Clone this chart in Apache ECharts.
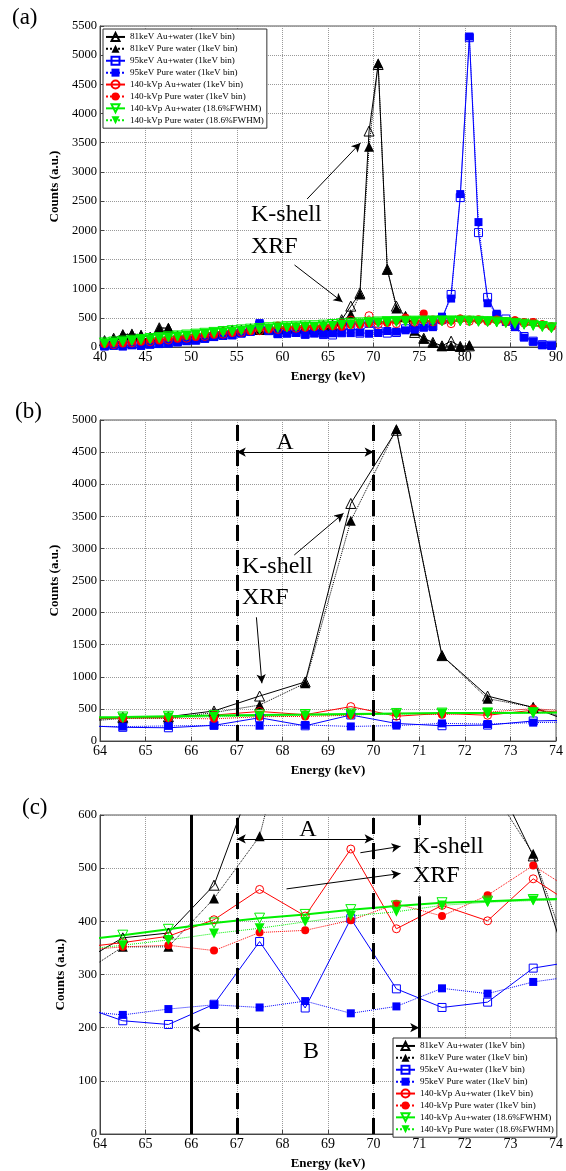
<!DOCTYPE html>
<html><head><meta charset="utf-8">
<script src="https://cdn.jsdelivr.net/npm/echarts@6/dist/echarts.min.js"></script>
<style>html,body{margin:0;padding:0;background:#fff}#c{width:566px;height:1171px}</style>
</head><body><div id="c"></div>
<script>
// ---------- data ----------
const energy = [40.5,41.5,42.5,43.5,44.5,45.5,46.5,47.5,48.5,49.5,
  50.5,51.5,52.5,53.5,54.5,55.5,56.5,57.5,58.5,59.5,
  60.5,61.5,62.5,63.5,64.5,65.5,66.5,67.5,68.5,69.5,
  70.5,71.5,72.5,73.5,74.5,75.5,76.5,77.5,78.5,79.5,
  80.5,81.5,82.5,83.5,84.5,85.5,86.5,87.5,88.5,89.5];
const au81 = [110,150,210,215,200,170,330,320,190,160,
  170,200,240,270,280,290,310,300,310,320,
  330,330,340,319,369,378,468,700,920,3700,
  4840,1330,700,523,250,150,80,20,100,10,
  20,null,null,null,null,null,null,null,null,null];
const pw81 = [100,140,220,230,210,160,320,330,180,170,
  180,210,230,280,300,280,320,310,300,310,
  320,330,330,296,352,352,443,560,900,3430,
  4860,1330,660,527,280,140,70,15,15,10,
  30,null,null,null,null,null,null,null,null,null];
const au95 = [20,30,20,40,30,50,60,70,90,110,
  120,150,180,200,210,240,270,380,280,230,
  240,250,220,243,213,206,244,362,237,405,
  273,238,248,312,326,350,360,470,900,2560,
  5300,1960,850,540,480,380,180,100,40,30];
const pw95 = [10,20,10,30,20,40,50,60,80,100,
  110,140,170,190,200,230,260,410,290,220,
  230,240,210,232,224,235,243,238,250,227,
  240,274,264,286,298,330,340,520,830,2620,
  5320,2140,750,570,430,340,160,90,30,20];
const au140 = [60,40,90,70,120,90,140,120,170,150,
  200,180,240,220,270,250,300,280,320,300,
  340,320,360,350,360,372,403,460,410,536,
  386,430,401,480,424,460,430,450,400,480,
  440,470,440,460,430,450,410,420,380,350];
const pw140 = [50,70,60,100,90,130,110,160,140,190,
  170,220,210,270,240,290,270,320,300,370,
  340,350,330,345,352,355,345,379,383,402,
  433,410,449,505,450,575,470,460,450,490,
  470,460,450,470,440,460,430,430,390,350];
const au140f = [70,85,100,115,130,145,160,175,190,205,
  220,235,250,265,280,293,306,318,330,340,
  348,355,362,364,374,385,397,406,413,422,
  429,435,438,441,443,445,446,447,447,446,
  444,440,435,428,418,405,390,372,352,330];
const pw140f = [60,72,88,102,118,132,148,162,178,192,
  208,222,238,252,266,280,292,305,316,326,
  334,340,346,346,355,365,377,387,399,410,
  418,430,436,439,441,443,444,445,445,444,
  442,438,432,425,414,400,384,366,346,322];
const seriesNames = ['81keV Au+water (1keV bin)','81keV Pure water (1keV bin)',
  '95keV Au+water (1keV bin)','95keV Pure water (1keV bin)',
  '140-kVp Au+water (1keV bin)','140-kVp Pure water (1keV bin)',
  '140-kVp Au+water (18.6%FWHM)','140-kVp Pure water (18.6%FWHM)'];
const seriesValues = [au81, pw81, au95, pw95, au140, pw140, au140f, pw140f];

// ---------- styles ----------
const FONT = 'Liberation Serif';
const looks = [
  {color:'#000000', symbol:'triangle', rot:0, open:true, type:'solid', w:1, size:10},
  {color:'#000000', symbol:'triangle', rot:0, open:false, type:'dotted', w:1, size:10},
  {color:'#0000ff', symbol:'rect', rot:0, open:true, type:'solid', w:1, size:8},
  {color:'#0000ff', symbol:'rect', rot:0, open:false, type:'dotted', w:1, size:8},
  {color:'#ff0000', symbol:'circle', rot:0, open:true, type:'solid', w:1, size:8},
  {color:'#ff0000', symbol:'circle', rot:0, open:false, type:'dotted', w:1, size:8},
  {color:'#00f000', symbol:'triangle', rot:180, open:true, type:'solid', w:2, size:10},
  {color:'#00f000', symbol:'triangle', rot:180, open:false, type:'dotted', w:1, size:10}
];

const panels = [
  {top:26, height:321, xmin:40, xmax:90, xint:5, ymax:5500, yint:500, nameGap:38},
  {top:420, height:321, xmin:64, xmax:74, xint:1, ymax:5000, yint:500, nameGap:38},
  {top:815, height:323, xmin:64, xmax:74, xint:1, ymax:600, yint:100, nameGap:33}
];

const grids = panels.map(p => ({left:100, top:p.top, width:458, height:p.height,
  show:true, borderColor:'#555', borderWidth:1, backgroundColor:'#fff'}));
const xAxes = panels.map((p,i) => ({type:'value', gridIndex:i, min:p.xmin, max:p.xmax, interval:p.xint,
  axisLine:{show:true, onZero:false, lineStyle:{color:'#444'}},
  axisTick:{show:true, inside:true, length:4, lineStyle:{color:'#444'}},
  splitLine:{show:true, lineStyle:{type:'dotted', color:'#999'}},
  axisLabel:{color:'#000', fontFamily:FONT, fontSize:14, margin:3, formatter: v => String(v)},
  name:'Energy (keV)', nameLocation:'middle', nameGap:23,
  nameTextStyle:{color:'#000', fontFamily:FONT, fontWeight:'bold', fontSize:13}}));
const yAxes = panels.map((p,i) => ({type:'value', gridIndex:i, min:0, max:p.ymax, interval:p.yint,
  axisLine:{show:true, lineStyle:{color:'#444'}},
  axisTick:{show:true, inside:true, length:4, lineStyle:{color:'#444'}},
  splitLine:{show:true, lineStyle:{type:'dotted', color:'#999'}},
  axisLabel:{color:'#000', fontFamily:FONT, fontSize:12.5, margin:3, formatter: v => String(v)},
  name:'Counts (a.u.)', nameLocation:'middle', nameGap:p.nameGap,
  nameTextStyle:{color:'#000', fontFamily:FONT, fontWeight:'bold', fontSize:13}}));

const series = [];
panels.forEach((p, g) => {
  seriesNames.forEach((nm, k) => {
    const lk = looks[k];
    series.push({
      type:'line', name:nm, xAxisIndex:g, yAxisIndex:g,
      data: energy.map((e, i) => [e, seriesValues[k][i]]),
      symbol: lk.symbol, symbolSize: lk.size, symbolRotate: lk.rot, showAllSymbol:true,
      itemStyle: lk.open ? {color:'rgba(255,255,255,0)', borderColor:lk.color, borderWidth:1}
                         : {color:lk.color, borderColor:lk.color, borderWidth:0},
      lineStyle: {color:lk.color, width:lk.w, type:lk.type},
      emphasis:{disabled:true}, animation:false, clip:true
    });
  });
});

// ---------- annotations ----------
const dash = {color:'#000', width:3, type:[16,9]};
const solid = {color:'#000', width:3, type:'solid'};
const thin = {color:'#000', width:1, type:'solid'};
function seg(a, b, style, s1, s2) {
  return [{coord:a, symbol:s1||'none', lineStyle:style}, {coord:b, symbol:s2||'none', lineStyle:style}];
}
const annos = [
  [ seg([62.71,2536],[68.56,3496],thin,'none','arrow'),
    seg([61.33,1405],[66.59,771],thin,'none','arrow') ],
  [ seg([67,0],[67,5000],dash), seg([70,0],[70,5000],dash),
    seg([67,4500],[70,4500],thin,'arrow','arrow'),
    seg([68.26,2897],[69.34,3546],thin,'none','arrow'),
    seg([67.43,1927],[67.55,899],thin,'none','arrow') ],
  [ seg([66,0],[66,600],solid), seg([71,600],[71,581],solid), seg([71,447],[71,0],solid),
    seg([67,0],[67,600],dash), seg([70,0],[70,600],dash),
    seg([67,555],[70,555],thin,'arrow','arrow'),
    seg([66,200],[71,200],thin,'arrow','arrow'),
    seg([69.71,529],[70.59,541],thin,'none','arrow'),
    seg([68.09,461],[70.59,490],thin,'none','arrow') ]
];
annos.forEach((list, g) => {
  series.push({type:'line', name:'anno'+g, xAxisIndex:g, yAxisIndex:g, data:[], z:5,
    markLine:{silent:true, animation:false, symbolSize:[7,9], label:{show:false},
      emphasis:{disabled:true}, data:list}});
});

function txt(text, x, y, size, align) {
  return {type:'text', x:x, y:y, z:100, style:{text:text, font: size+'px "'+FONT+'"', fill:'#000',
    align: align||'left', verticalAlign:'middle'}};
}
const graphics = [
  txt('(a)', 12, 18, 23), txt('(b)', 15, 412, 23), txt('(c)', 22, 808, 23),
  txt('K-shell', 251, 215, 24), txt('XRF', 251, 247, 24),
  txt('K-shell', 242, 567, 24), txt('XRF', 242, 598, 24), txt('A', 285, 443, 24, 'center'),
  txt('K-shell', 413, 847, 24), txt('XRF', 413, 876, 24), txt('A', 308, 830, 24, 'center'),
  txt('B', 311, 1052, 24, 'center')
];

const legendCommon = {data:seriesNames, orient:'vertical', backgroundColor:'#fff',
  borderColor:'#333', borderWidth:1, padding:[2,3,2,2], itemWidth:19, itemHeight:10, itemGap:0,
  selectedMode:false, z:20,
  textStyle:{fontFamily:FONT, fontSize:9.1, color:'#000', lineHeight:11.9}};

const chart = echarts.init(document.getElementById('c'), null, {renderer:'canvas'});
chart.setOption({
  animation:false, backgroundColor:'#fff',
  grid: grids, xAxis: xAxes, yAxis: yAxes, series: series,
  legend: [Object.assign({left:103, top:29}, legendCommon),
           Object.assign({left:393, top:1038}, legendCommon)],
  graphic: graphics
});
</script></body></html>
